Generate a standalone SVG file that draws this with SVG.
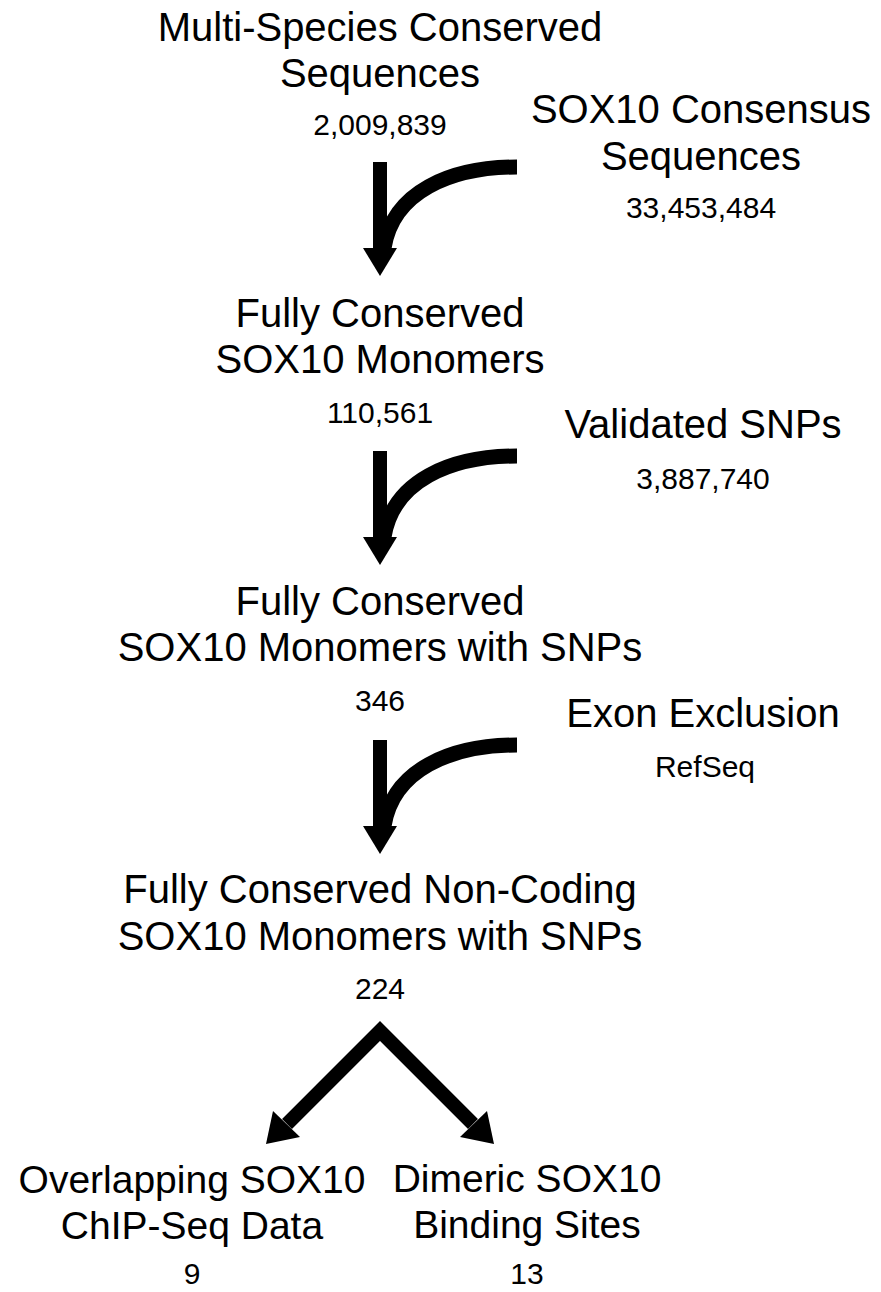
<svg xmlns="http://www.w3.org/2000/svg" width="881" height="1292" viewBox="0 0 881 1292">
<style>
text{font-family:"Liberation Sans",Arial,sans-serif;fill:#000;text-anchor:middle}
.t{font-size:40px}
.n{font-size:30px}
.b{font-size:39px}
.arm{fill:none;stroke:#000;stroke-width:15}
</style>
<defs>
<g id="bend">
<path class="arm" d="M517,167 C450,167 393,192 384,248"/>
<rect x="373" y="162" width="14" height="87" fill="#000"/>
<polygon points="363,248 397,248 380,276" fill="#000"/>
</g>
</defs>
<rect width="881" height="1292" fill="#fff"/>
<g id="connectors">
<use href="#bend"/>
<use href="#bend" transform="translate(0,289)"/>
<use href="#bend" transform="translate(0,578)"/>
<polyline points="287,1124 380,1031 473,1124" fill="none" stroke="#000" stroke-width="14" stroke-miterlimit="10"/>
<polygon points="266,1144 273,1111 300,1137" fill="#000"/>
<polygon points="494,1144 487,1111 460,1137" fill="#000"/>
</g>
<g id="node-mcs">
<text class="t" x="380" y="41">Multi-Species Conserved</text>
<text class="t" x="380" y="87">Sequences</text>
<text class="n" x="380" y="135">2,009,839</text>
</g>
<g id="node-consensus">
<text class="t" x="701" y="123">SOX10 Consensus</text>
<text class="t" x="701" y="170">Sequences</text>
<text class="n" x="701" y="218">33,453,484</text>
</g>
<g id="node-monomers">
<text class="t" x="380" y="327">Fully Conserved</text>
<text class="t" x="380" y="373">SOX10 Monomers</text>
<text class="n" x="380" y="423">110,561</text>
</g>
<g id="node-snps">
<text class="t" x="703" y="438">Validated SNPs</text>
<text class="n" x="703" y="489">3,887,740</text>
</g>
<g id="node-monomers-snps">
<text class="t" x="380" y="615">Fully Conserved</text>
<text class="t" x="380" y="661">SOX10 Monomers with SNPs</text>
<text class="n" x="380" y="711">346</text>
</g>
<g id="node-exon">
<text class="t" x="703" y="727">Exon Exclusion</text>
<text class="n" x="705" y="777">RefSeq</text>
</g>
<g id="node-noncoding">
<text class="t" x="380" y="903">Fully Conserved Non-Coding</text>
<text class="t" x="380" y="950">SOX10 Monomers with SNPs</text>
<text class="n" x="380" y="999">224</text>
</g>
<g id="node-chip">
<text class="b" x="192" y="1193">Overlapping SOX10</text>
<text class="b" x="192" y="1239">ChIP-Seq Data</text>
<text class="n" x="192" y="1284">9</text>
</g>
<g id="node-dimeric">
<text class="b" x="527" y="1192">Dimeric SOX10</text>
<text class="b" x="527" y="1238">Binding Sites</text>
<text class="n" x="527" y="1284">13</text>
</g>
</svg>
